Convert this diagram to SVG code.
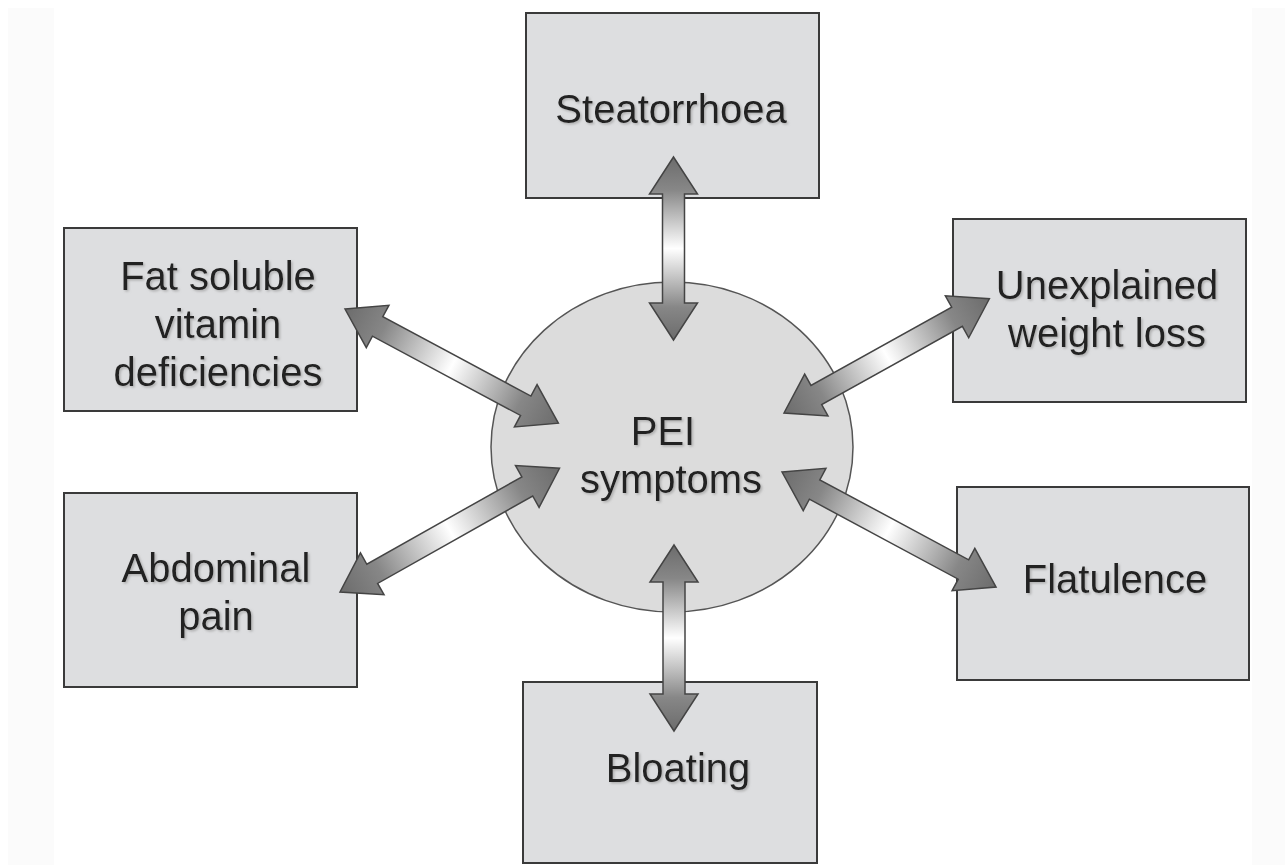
<svg xmlns="http://www.w3.org/2000/svg" width="1285" height="865" viewBox="0 0 1285 865">
  <defs>
    <style>
      .box { fill: #dddee0; stroke: #3a3a3a; stroke-width: 2; }
      .hub { fill: #dcdcdc; stroke: #555; stroke-width: 1.5; }
      .lbl { font-family: "Liberation Sans", Arial, sans-serif; font-size: 40px; fill: #222; text-anchor: middle; filter: url(#ts); }
      .arr { fill: url(#ag); stroke: #444; stroke-width: 1.5; stroke-linejoin: miter; }
    </style>
    <filter id="ts" x="-5%" y="-20%" width="110%" height="140%">
      <feDropShadow dx="1.5" dy="1.5" stdDeviation="0.8" flood-color="#9a9a9a" flood-opacity="0.7"/>
    </filter>
    <linearGradient id="ag" x1="0" y1="0" x2="1" y2="0">
      <stop offset="0" stop-color="#6c6c6c"/>
      <stop offset="0.18" stop-color="#878787"/>
      <stop offset="0.5" stop-color="#ffffff"/>
      <stop offset="0.82" stop-color="#878787"/>
      <stop offset="1" stop-color="#6c6c6c"/>
    </linearGradient>
  </defs>
  <rect width="1285" height="865" fill="#ffffff"/>
  <rect x="8" y="8" width="46" height="857" fill="#fbfbfb"/>
  <rect x="1252" y="8" width="33" height="857" fill="#fbfbfb"/>

  <g id="node-pei">
    <ellipse class="hub" cx="672" cy="447" rx="181" ry="165"/>
    <text class="lbl" x="663" y="445">PEI</text>
    <text class="lbl" x="671" y="493">symptoms</text>
  </g>
  <g id="node-steatorrhoea">
    <rect class="box" x="526" y="13" width="293" height="185"/>
    <text class="lbl" x="671" y="123">Steatorrhoea</text>
  </g>
  <g id="node-fat">
    <rect class="box" x="64" y="228" width="293" height="183"/>
    <text class="lbl" x="218" y="290">Fat soluble</text>
    <text class="lbl" x="218" y="338">vitamin</text>
    <text class="lbl" x="218" y="386">deficiencies</text>
  </g>
  <g id="node-abdominal">
    <rect class="box" x="64" y="493" width="293" height="194"/>
    <text class="lbl" x="216" y="582">Abdominal</text>
    <text class="lbl" x="216" y="630">pain</text>
  </g>
  <g id="node-weight">
    <rect class="box" x="953" y="219" width="293" height="183"/>
    <text class="lbl" x="1107" y="299">Unexplained</text>
    <text class="lbl" x="1107" y="347">weight loss</text>
  </g>
  <g id="node-flatulence">
    <rect class="box" x="957" y="487" width="292" height="193"/>
    <text class="lbl" x="1115" y="593">Flatulence</text>
  </g>
  <g id="node-bloating">
    <rect class="box" x="523" y="682" width="294" height="181"/>
    <text class="lbl" x="678" y="782">Bloating</text>
  </g>

  <g id="connectors">
    <polygon class="arr" transform="translate(673.5,157) rotate(90)" points="0,0 37,-24 37,-11 146,-11 146,-24 183,0 146,24 146,11 37,11 37,24"/>
    <polygon class="arr" transform="translate(674,545) rotate(90)" points="0,0 37,-24 37,-11 149,-11 149,-24 186,0 149,24 149,11 37,11 37,24"/>
    <polygon class="arr" transform="translate(345,309) rotate(28.16)" points="0,0 37,-24 37,-11 205,-11 205,-24 242,0 205,24 205,11 37,11 37,24"/>
    <polygon class="arr" transform="translate(340,592) rotate(-29.41)" points="0,0 37,-24 37,-11 215,-11 215,-24 252,0 215,24 215,11 37,11 37,24"/>
    <polygon class="arr" transform="translate(784,413) rotate(-29.08)" points="0,0 37,-24 37,-11 198,-11 198,-24 235,0 198,24 198,11 37,11 37,24"/>
    <polygon class="arr" transform="translate(782,472) rotate(28.25)" points="0,0 37,-24 37,-11 206,-11 206,-24 243,0 206,24 206,11 37,11 37,24"/>
  </g>
</svg>
